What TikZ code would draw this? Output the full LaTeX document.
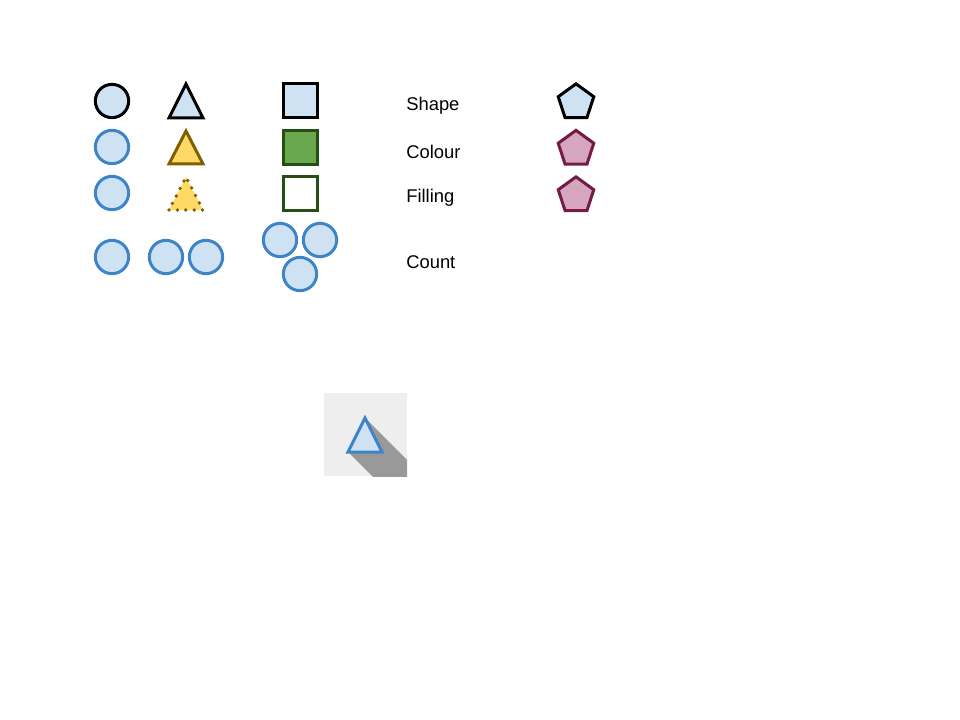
\documentclass[tikz,border=0pt]{standalone}
\usepackage{fontspec}
\setmainfont{Liberation Sans}
\usetikzlibrary{shapes.geometric}
\definecolor{lblue}{HTML}{CFE2F3}
\definecolor{dblue}{HTML}{3D85C6}
\definecolor{lyellow}{HTML}{FFD966}
\definecolor{dyellow}{HTML}{7F6000}
\definecolor{lgreen}{HTML}{6AA84F}
\definecolor{dgreen}{HTML}{274E13}
\definecolor{lpink}{HTML}{D5A6BD}
\definecolor{dpink}{HTML}{741B47}
\definecolor{boxgray}{HTML}{EEEEEE}
\definecolor{shadowgray}{HTML}{999999}
\tikzset{
  shp/.style={line width=2.25pt, line join=miter},
  circ/.style={shp, circle, minimum size=25pt, inner sep=0pt},
  bcirc/.style={circ, draw=dblue, fill=lblue},
  sq/.style={shp, rectangle, minimum size=25.5pt, inner sep=0pt},
  pent/.style={shp, regular polygon, regular polygon sides=5, minimum size=28pt, inner sep=0pt},
  lbl/.style={anchor=west, font=\fontsize{13.8pt}{16pt}\selectfont, inner sep=0pt},
}
\begin{document}
\begin{tikzpicture}[x=0.75pt,y=-0.75pt]
\useasboundingbox (0,0) rectangle (960,720);
% column 1
\node[circ, draw=black, fill=lblue] (c1) at (112,101) {};
\node[bcirc] (c2) at (112,147) {};
\node[bcirc] (c3) at (112,193) {};
\node[bcirc] (c4) at (112,257) {};
% column 2 triangles
\draw[shp, draw=black, fill=lblue] (186,84) -- (203,118) -- (169,118) -- cycle;
\draw[shp, draw=dyellow, fill=lyellow] (186,131) -- (203,164) -- (169,164) -- cycle;
\fill[lyellow] (186,177) -- (203,210) -- (169,210) -- cycle;
\draw[draw=dyellow, line width=2.8pt, line cap=round, dash pattern=on 0pt off 6.3pt] (169,210) -- (203,210) -- (186,177) -- cycle;
\node[bcirc] (c5) at (166,257) {};
\node[bcirc] (c6) at (206,257) {};
% column 3 squares
\node[sq, draw=black, fill=lblue] (s1) at (300,101) {};
\node[sq, draw=dgreen, fill=lgreen] (s2) at (300,147.5) {};
\node[sq, draw=dgreen, fill=white] (s3) at (300,193.5) {};
\node[bcirc] (c7) at (280,240) {};
\node[bcirc] (c8) at (320,240) {};
\node[bcirc] (c9) at (300,274) {};
% labels
\node[lbl] (t1) at (406,106) {Shape};
\node[lbl] (t2) at (406,152) {Colour};
\node[lbl] (t3) at (406,198) {Filling};
\node[lbl] (t4) at (406,262) {Count};
% pentagons
\node[pent, draw=black, fill=lblue] (p1) at (576,102.5) {};
\node[pent, draw=dpink, fill=lpink] (p2) at (576,149) {};
\node[pent, draw=dpink, fill=lpink] (p3) at (576,195.5) {};
% icon
\fill[boxgray] (324,393) rectangle (407,476);
\begin{scope}
  \clip (324,393) rectangle (407,476);
  \fill[shadowgray] (365,418) -- (465,518) -- (482,552) -- (448,552) -- (348,452) -- (382,452) -- cycle;
\end{scope}
\draw[shp, draw=dblue, fill=lblue] (365,418) -- (382,452) -- (348,452) -- cycle;
\end{tikzpicture}
\end{document}
